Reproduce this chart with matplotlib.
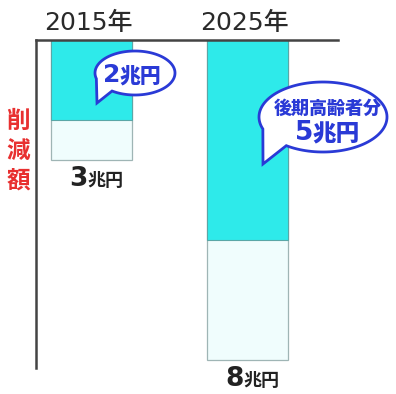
import numpy as np
import matplotlib
matplotlib.use("Agg")
import matplotlib.pyplot as plt
from matplotlib.patches import Polygon

plt.rcParams['font.family'] = ['DejaVu Sans', 'Noto Sans CJK JP']

# data (兆円)
years = ['2015年', '2025年']
total = [3, 8]
elderly = [2, 5]
bubble_text = ['2兆円', '後期高齢者分\n5兆円']

W, H = 396, 394
fig = plt.figure(figsize=(W / 100, H / 100), dpi=100)
ax = fig.add_axes([36 / W, 1 - 368 / H, 302 / W, 328 / H])

xpos = np.arange(len(years))
bw = 81 / 156
ax.bar(xpos, total, width=bw, color='#f0fdfd', edgecolor='#9fb5b5', linewidth=0.9, zorder=1)
ax.bar(xpos, elderly, width=bw, color='#2eeaea', edgecolor='#5aa7a7', linewidth=0.8, zorder=2)

ax.set_xlim(-55.5 / 156, (302 - 55.5) / 156)
ax.set_ylim(328 / 40, 0)
ax.set_xticks([])
ax.set_yticks([])
for s in ['right', 'bottom']:
    ax.spines[s].set_visible(False)
for s in ['left', 'top']:
    ax.spines[s].set_color('#444444')
    ax.spines[s].set_linewidth(1.8)

# year labels
for x, y in zip(xpos, years):
    ax.text(x - 0.02, -0.12, y, ha='center', va='bottom', fontsize=18, color='#2a2a2a',
            fontweight='medium', family=['DejaVu Sans', 'Noto Sans CJK JP'])

# totals under bars
for x, t in zip(xpos, total):
    ax.annotate(str(t), (x, t), xytext=(-3, -4), textcoords='offset points',
                ha='right', va='top', fontsize=19, fontweight='bold', color='#222222')
    ax.annotate('兆円', (x, t), xytext=(-3, -8), textcoords='offset points',
                ha='left', va='top', fontsize=13, fontweight='bold', color='#222222',
                family=['Noto Sans CJK JP'])

# vertical red label
fig.text(18 / W, 1 - 151 / H, '削\n減\n額', ha='center', va='center', fontsize=17,
         fontweight='bold', color='#e83030', linespacing=1.3, family=['Noto Sans CJK JP'])


def px(x, y):
    return (x / W, 1 - y / H)


def bubble(cx, cy, w, h, tip, a1, a2):
    t = np.linspace(a2, a1 + 2 * np.pi, 120)
    pts = [px(cx + w / 2 * np.cos(a), cy - h / 2 * np.sin(a)) for a in t]
    pts.append(px(*tip))
    poly = Polygon(pts, closed=True, facecolor='white', edgecolor='#2a3ad6',
                   linewidth=2, transform=fig.transFigure, zorder=5)
    fig.add_artist(poly)


bubble(135, 73, 80, 44, (97, 103), np.radians(195), np.radians(235))
bubble(323, 117, 128, 70, (263, 164), np.radians(200), np.radians(235))

blue = '#2a3ad6'
fig.text(*px(120, 75), '2', ha='right', va='center', fontsize=18, fontweight='bold',
         color=blue, zorder=6)
fig.text(*px(120, 76), '兆円', ha='left', va='center', fontsize=15, fontweight='black',
         color=blue, family=['Noto Sans CJK JP'], zorder=6)
fig.text(*px(328, 108), bubble_text[1].split('\n')[0], ha='center', va='center', fontsize=13,
         fontweight='black', color=blue, family=['Noto Sans CJK JP'], zorder=6)
fig.text(*px(313, 133), '5', ha='right', va='center', fontsize=19, fontweight='bold',
         color=blue, zorder=6)
fig.text(*px(313, 134), '兆円', ha='left', va='center', fontsize=17, fontweight='black',
         color=blue, family=['Noto Sans CJK JP'], zorder=6)

fig.savefig('out.png', dpi=100)
